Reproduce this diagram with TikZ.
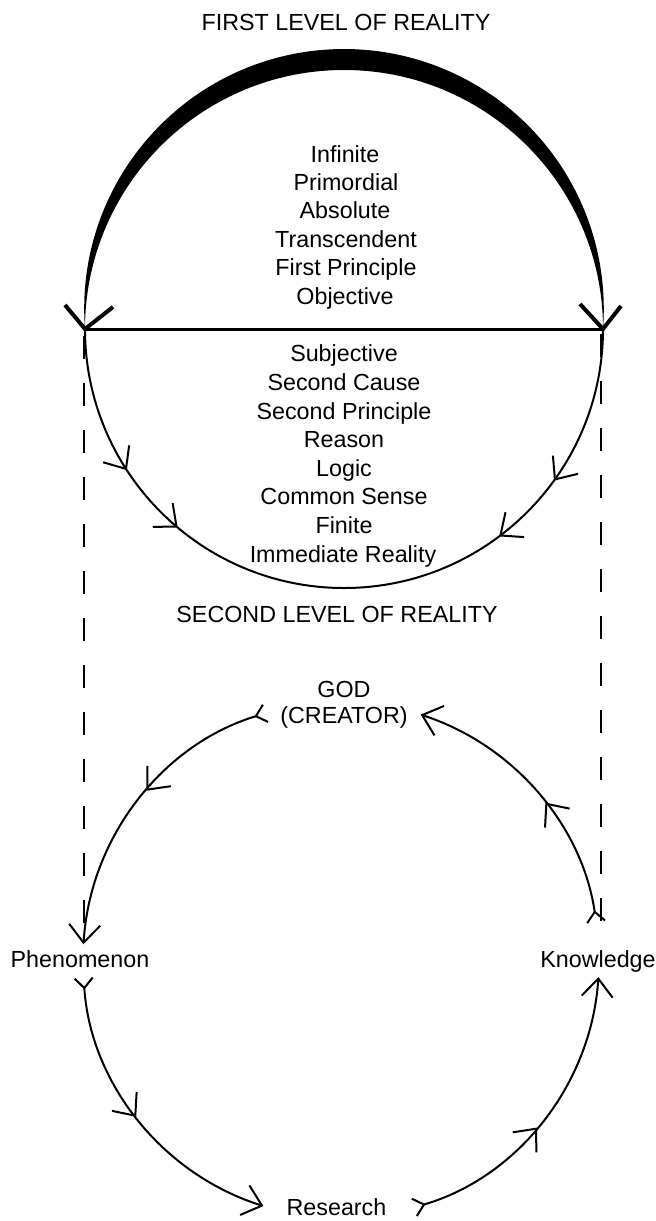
\documentclass[tikz,border=0pt]{standalone}
\usepackage{fontspec}
\setmainfont{Liberation Sans}
\usetikzlibrary{arrows.meta,decorations.markings}
\tikzset{
  bigbarb/.tip={Straight Barb[length=18pt,width=31pt,line width=2pt]},
  tailbarb/.tip={Straight Barb[reversed,length=10pt,width=18pt,line width=2pt]},
  lbl/.style={font=\fontsize{23.3}{28}\selectfont, inner sep=0pt, anchor=base},
  arcline/.style={line width=2pt},
  dashline/.style={line width=2pt, dash pattern=on 23pt off 24pt},
  vmark/.style={line width=4pt, line join=miter},
  onemid/.style={postaction={decorate}, decoration={markings,
      mark=at position #1 with {\arrow{bigbarb}}}},
  twomid/.style 2 args={postaction={decorate}, decoration={markings,
      mark=at position #1 with {\arrow{bigbarb}},
      mark=at position #2 with {\arrow{bigbarb}}}}
}
\begin{document}
\begin{tikzpicture}[x=1pt,y=1pt]
\useasboundingbox (0,0) rectangle (656,-1221);

% ---------- first level ----------
\coordinate (L) at (85,-329);
\coordinate (R) at (603,-329);

% crescent
\fill (L) arc[start angle=184.46, end angle=-4.46, radius=259.8]
      -- (R) arc[start angle=0, end angle=180, radius=259] -- cycle;

% diameter
\draw[line width=3pt] (L) -- (R);

% V marks at the ends of the diameter
\coordinate (lva) at (65,-305);
\coordinate (lvb) at (113,-307);
\coordinate (rva) at (580,-304);
\coordinate (rvb) at (621,-306);
\draw[vmark] (lva) -- (L) -- (lvb);
\draw[vmark] (rva) -- (R) -- (rvb);

% lower half circle with arrows
\draw[arcline, twomid={0.367}{0.556}] (L) arc[start angle=180, end angle=270, radius=259];
\draw[arcline, twomid={0.398}{0.591}] (R) arc[start angle=0, end angle=-90, radius=259];

% dashed verticals
\coordinate (dl1) at (84,-336);
\coordinate (dl2) at (84,-925);
\coordinate (dr1) at (600.5,-334);
\coordinate (dr2) at (600.5,-925);
\draw[dashline] (dl1) -- (dl2);
\draw[dashline] (dr1) -- (dr2);

% texts first level
\node[lbl] (title1) at (346,-30) {FIRST LEVEL OF REALITY};
\node[lbl] (w1) at (345,-162) {Infinite};
\node[lbl] (w2) at (346,-190.4) {Primordial};
\node[lbl] (w3) at (345,-218.8) {Absolute};
\node[lbl] (w4) at (346,-247.2) {Transcendent};
\node[lbl] (w5) at (346,-275.6) {First Principle};
\node[lbl] (w6) at (345,-304) {Objective};

\node[lbl] (v1) at (344,-361) {Subjective};
\node[lbl] (v2) at (344,-390) {Second Cause};
\node[lbl] (v3) at (344,-419) {Second Principle};
\node[lbl] (v4) at (344,-447) {Reason};
\node[lbl] (v5) at (344,-476) {Logic};
\node[lbl] (v6) at (344,-504) {Common Sense};
\node[lbl] (v7) at (344,-533) {Finite};
\node[lbl] (v8) at (343,-562) {Immediate Reality};

\node[lbl] (title2) at (337,-622) {SECOND LEVEL OF REALITY};

% ---------- second level ----------
\node[lbl] (god) at (344,-697) {GOD};
\node[lbl] (creator) at (344,-723) {(CREATOR)};
\node[lbl] (phen) at (80,-967) {Phenomenon};
\node[lbl] (know) at (598,-967) {Knowledge};
\node[lbl] (res) at (336.5,-1215) {Research};

\coordinate (C) at (341,-960);
\path (C) ++(106.8:258) coordinate (a1s);
\path (C) ++(183.8:258) coordinate (a2s);
\path (C) ++(286.3:258) coordinate (a3s);
\path (C) ++(8.3:258) coordinate (a4s);

\draw[arcline, {tailbarb}-{bigbarb}, onemid=0.462] (a1s) arc[start angle=106.8, end angle=176.5, radius=258];
\draw[arcline, {tailbarb}-{bigbarb}, onemid=0.49] (a2s) arc[start angle=183.8, end angle=252.5, radius=258];
\draw[arcline, {tailbarb}-{bigbarb}, onemid=0.475] (a3s) arc[start angle=286.3, end angle=356.2, radius=258];
\draw[arcline, {tailbarb}-{bigbarb}, onemid=0.46] (a4s) arc[start angle=8.3, end angle=72, radius=258];
\end{tikzpicture}
\end{document}
